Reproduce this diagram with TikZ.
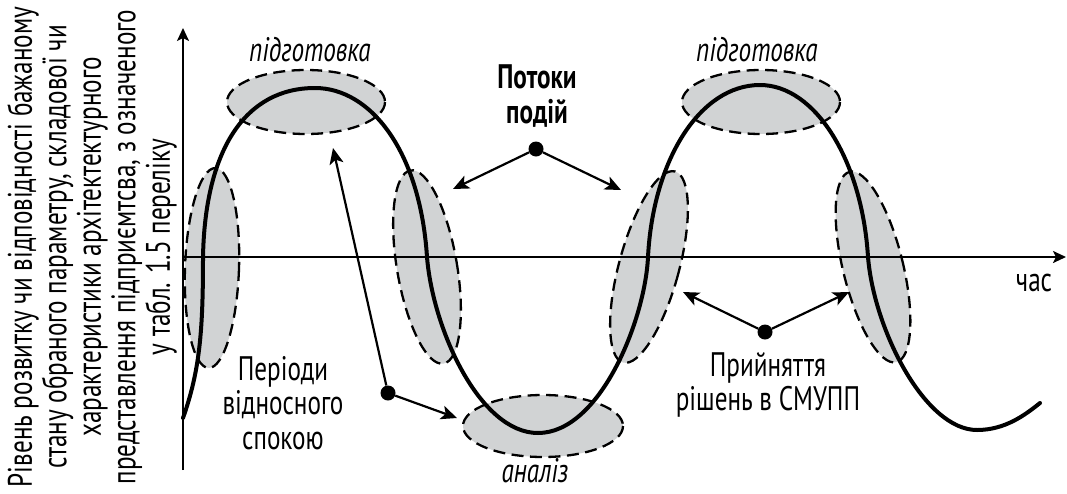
\documentclass[tikz,border=0pt]{standalone}
\usepackage{fontspec}
\setmainfont{PT Sans}[FakeStretch=0.74]
\usetikzlibrary{arrows.meta}
\definecolor{zonefill}{RGB}{209,211,212}
\begin{document}
\begin{tikzpicture}[x=1pt,y=-1pt,
  axisline/.style={line width=2.2pt,-{Stealth[length=13pt,width=12pt,inset=3pt]}},
  wave/.style={line width=4pt,line cap=round},
  zone/.style={fill=zonefill,draw=black,line width=2.3pt,dash pattern=on 12pt off 6.5pt},
  pointer/.style={line width=2.2pt,-{Stealth[length=16pt,width=14pt,inset=4pt]}},
  hub/.style={circle,fill=black,inner sep=0pt,minimum size=15pt},
  txt/.style={font=\fontsize{34}{34.5}\selectfont,align=center,inner sep=0pt},
  itx/.style={font=\fontsize{34}{34.5}\selectfont\itshape,align=center,inner sep=0pt},
  bld/.style={font=\fontsize{34}{34.5}\selectfont\bfseries,align=center,inner sep=0pt}]
\useasboundingbox (0,0) rectangle (1067,493);

% shaded zones around the turning points and the crossings
\path[zone] (306,102) ellipse [x radius=79,y radius=32];
\path[zone] (761,102) ellipse [x radius=79,y radius=32];
\path[zone] (543,426) ellipse [x radius=80,y radius=31];
\path[zone,rotate around={-2:(212,268)}] (212,268) ellipse [x radius=27,y radius=100];
\path[zone,rotate around={9.7:(427,267)}] (427,267) ellipse [x radius=30,y radius=98];
\path[zone,rotate around={-15.2:(649,267)}] (649,267) ellipse [x radius=30,y radius=99];
\path[zone,rotate around={13.8:(873,267)}] (873,267) ellipse [x radius=30,y radius=98];

% axes
\coordinate (origin) at (183,257);
\coordinate (ybot) at (183,470);
\coordinate (ytop) at (183,28);
\coordinate (xend) at (1066,257);
\draw[axisline] (ybot) -- (ytop);
\draw[axisline] (origin) -- (xend);
\node[txt] (time) at (1034,283) {час};

% the oscillating curve
\draw[wave] (183,418) .. controls (200,370) and (203,330) .. (203,257)
  .. controls (205,150) and (245,88) .. (315,88)
  .. controls (370,88) and (420,150) .. (427,257)
  .. controls (433,330) and (480,433) .. (538,433)
  .. controls (600,433) and (645,320) .. (648,257)
  .. controls (653,160) and (700,85) .. (760,85)
  .. controls (815,85) and (862,160) .. (868,257)
  .. controls (874,330) and (925,430) .. (977,430)
  .. controls (1005,430) and (1025,415) .. (1040,403);

% zone labels
\node[itx] (prepA) at (310,50) {підготовка};
\node[itx] (prepB) at (757,50) {підготовка};
\node[itx] (anal) at (535,471) {аналіз};

% event flows
\node[bld] (flows) at (537,96) {Потоки\\подій};
\node[hub] (flowhub) at (536,149) {};
\coordinate (flowL) at (453,189);
\coordinate (flowR) at (621,190);
\draw[pointer] (flowhub) -- (flowL);
\draw[pointer] (flowhub) -- (flowR);

% calm periods
\node[txt] (calm) at (283,403) {Періоди\\відносного\\спокою};
\node[hub] (calmhub) at (388,393) {};
\coordinate (calmT) at (333,148);
\coordinate (calmB) at (457,418);
\draw[pointer] (calmhub) -- (calmT);
\draw[pointer] (calmhub) -- (calmB);

% decision making
\node[txt] (dec) at (768,385) {Прийняття\\рішень в СМУПП};
\node[hub] (dechub) at (765,332) {};
\coordinate (decL) at (683,292);
\coordinate (decR) at (849,292);
\draw[pointer] (dechub) -- (decL);
\draw[pointer] (dechub) -- (decR);

% vertical axis title
\node[txt,rotate=90] (ytitle) at (92,247) {Рівень розвитку чи відповідності бажаному\\стану обраного параметру, складової чи\\характеристики архітектектурного\\представлення підприємтсва, з означеного\\у табл. 1.5 переліку};
\end{tikzpicture}
\end{document}
